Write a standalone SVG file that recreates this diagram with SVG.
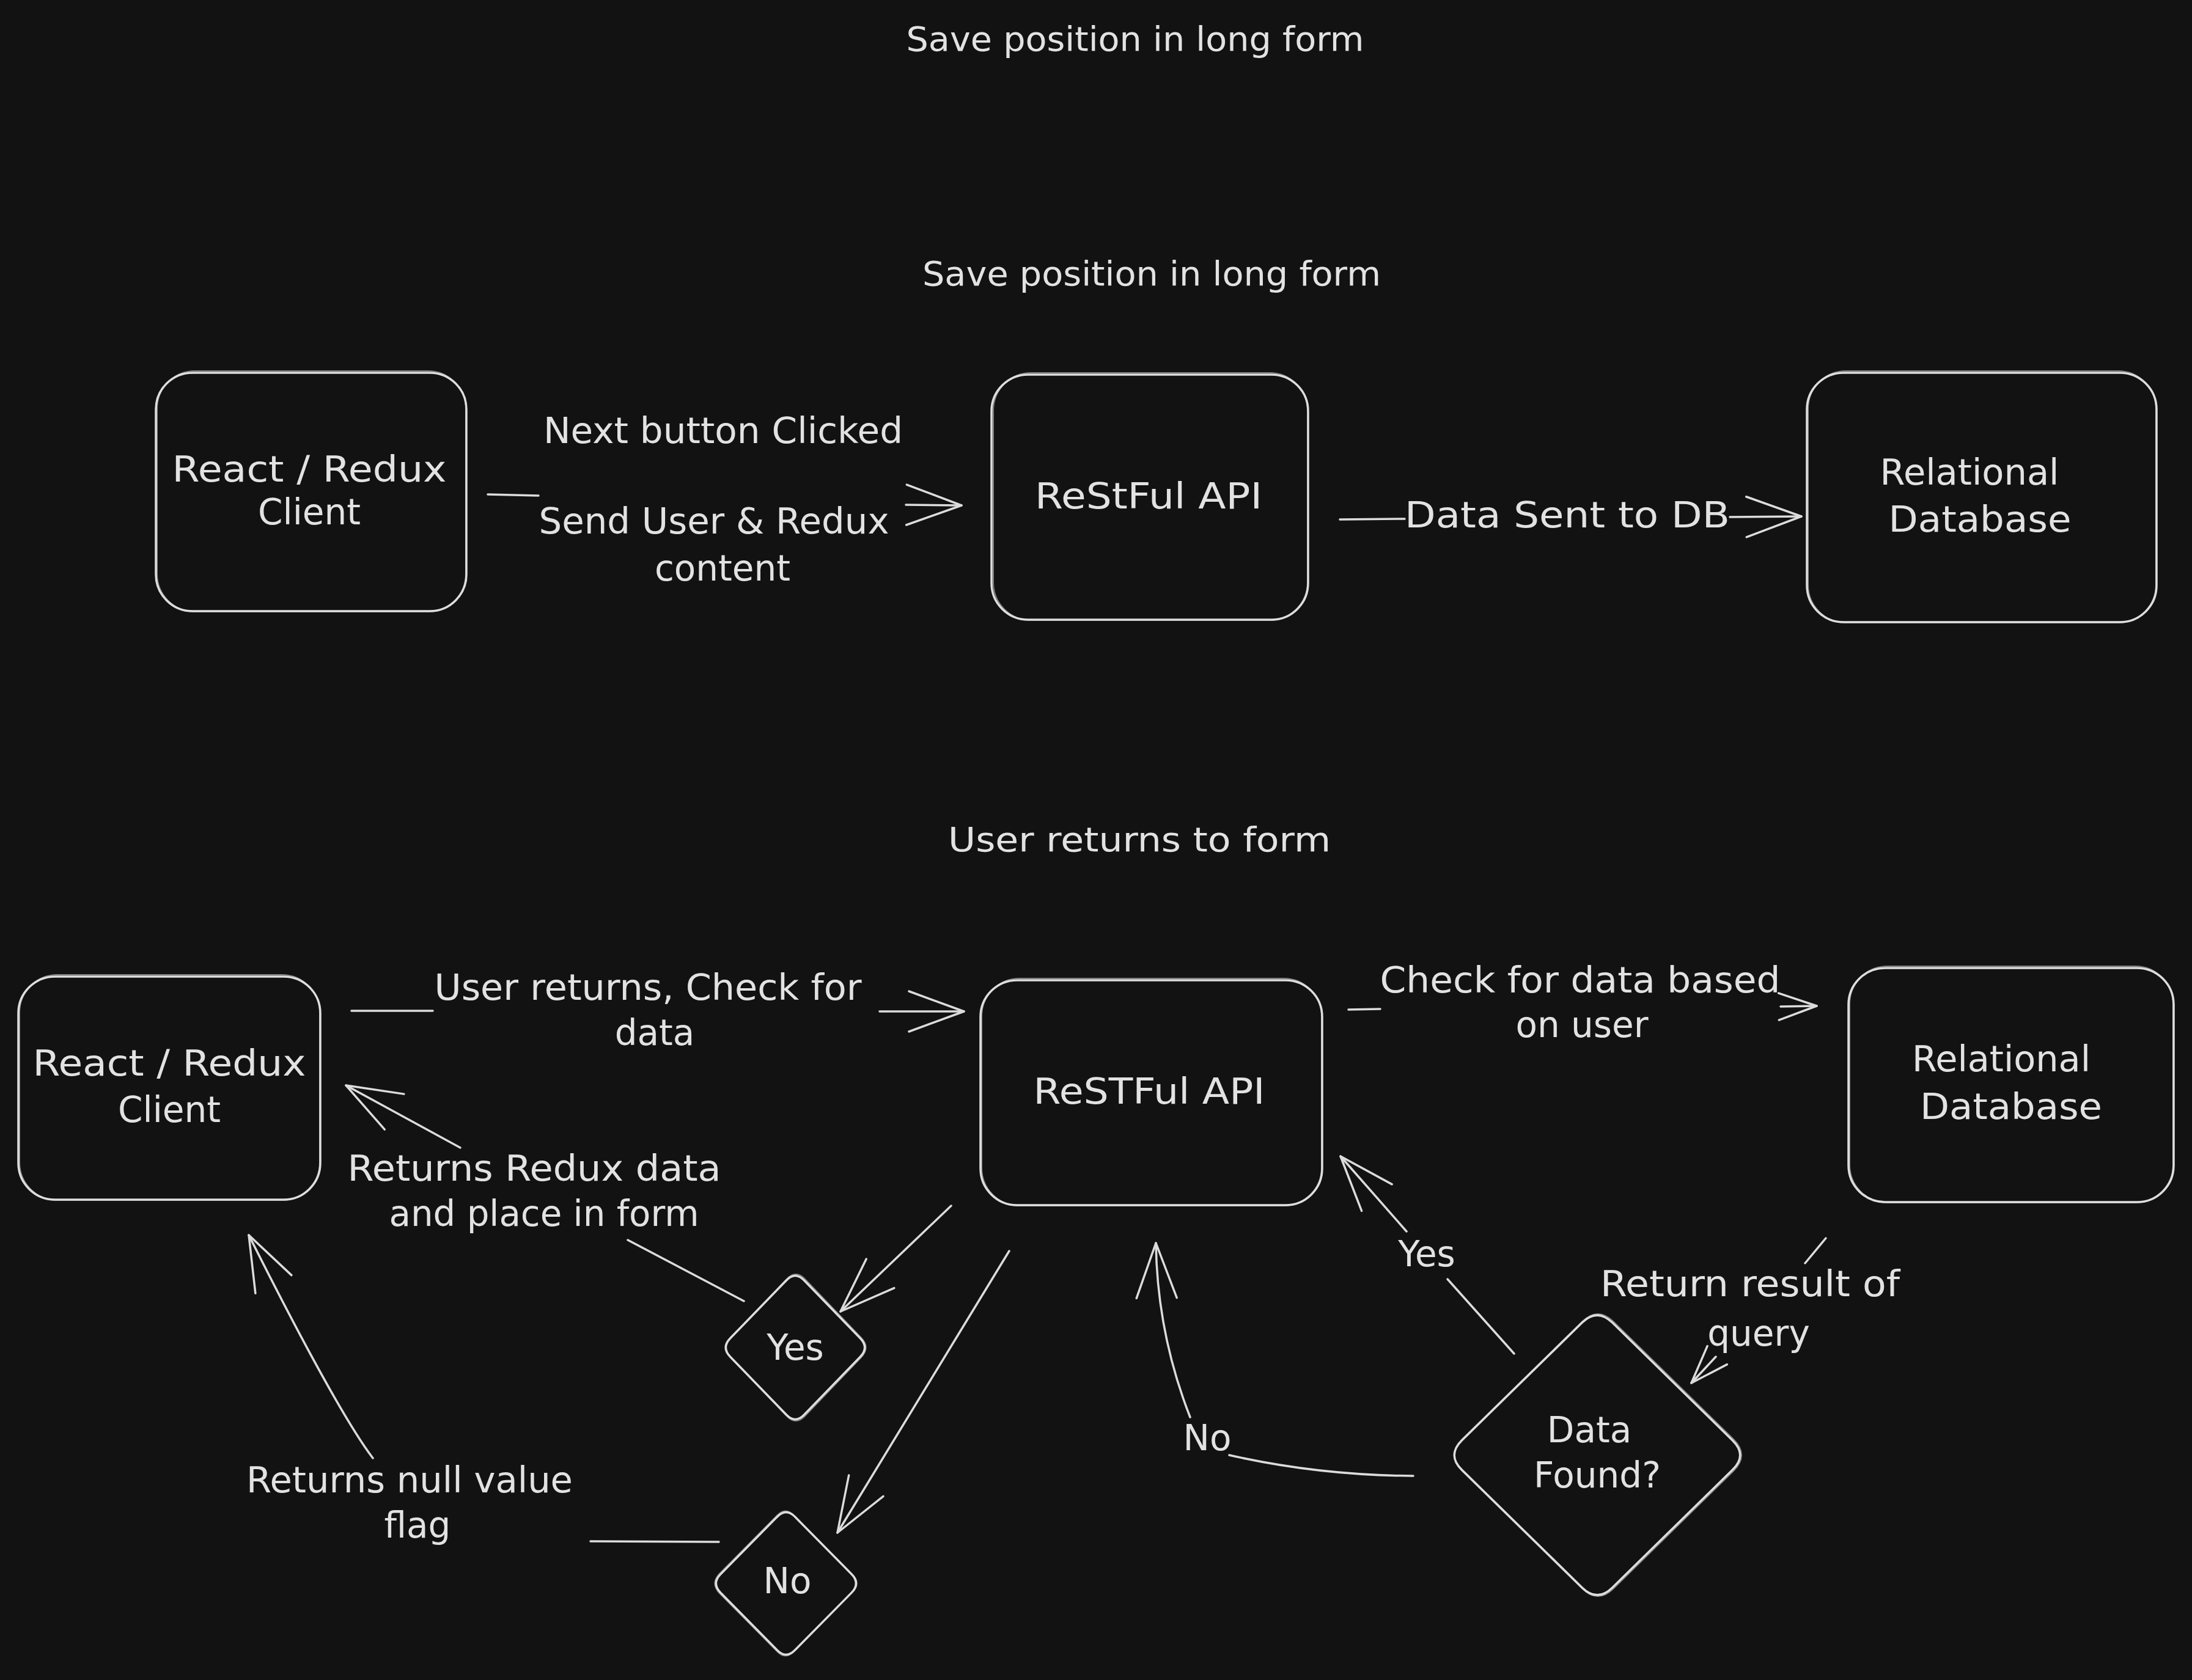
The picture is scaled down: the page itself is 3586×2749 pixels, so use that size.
<svg xmlns="http://www.w3.org/2000/svg" width="3586" height="2749" viewBox="0 0 3586 2749">
<style>
.bg{fill:#121212}
.box{fill:none;stroke:#dedede;stroke-width:3.5;stroke-linejoin:round}
.box2{fill:none;stroke:#dedede;stroke-width:2;opacity:.55;stroke-linejoin:round}
.edge{fill:none;stroke:#dcdcdc;stroke-width:3.5;stroke-linecap:round;stroke-linejoin:round}
.t{font-family:"DejaVu Sans","Liberation Sans",sans-serif;font-size:58px;fill:#e2e2e2;text-anchor:middle}
.h{font-size:55px}
</style>
<defs>
<marker id="ah" markerUnits="userSpaceOnUse" viewBox="0 0 100 80" markerWidth="100" markerHeight="80" refX="92" refY="40" orient="auto">
<path d="M2,7 L92,40 L2,73" fill="none" stroke="#dcdcdc" stroke-width="3.5" stroke-linecap="round" stroke-linejoin="round"/>
</marker>
<marker id="ahs" markerUnits="userSpaceOnUse" viewBox="0 0 70 56" markerWidth="70" markerHeight="56" refX="64" refY="28" orient="auto">
<path d="M2,6 L64,28 L2,50" fill="none" stroke="#dcdcdc" stroke-width="3.5" stroke-linecap="round" stroke-linejoin="round"/>
</marker>
</defs>
<rect class="bg" x="0" y="0" width="3586" height="2749"/>

<g id="titles">
<text class="t h" x="1857" y="83" textLength="749" lengthAdjust="spacingAndGlyphs">Save position in long form</text>
<text class="t h" x="1884" y="467" textLength="750" lengthAdjust="spacingAndGlyphs">Save position in long form</text>
<text class="t h" x="1864" y="1393" textLength="626" lengthAdjust="spacingAndGlyphs">User returns to form</text>
</g>

<g id="connectors">
<path class="edge" d="M798,809 L881,811 M1482,826 L1573,827" marker-end="url(#ah)"/>
<path class="edge" d="M2192,850 L2298,849 M2830,846 L2947,845" marker-end="url(#ah)"/>
<path class="edge" d="M575,1654 L708,1654 M1439,1655 L1577,1655" marker-end="url(#ah)"/>
<path class="edge" d="M2206,1652 L2258,1651 M2913,1647 L2972,1646" marker-end="url(#ahs)"/>
<path class="edge" d="M1217,2129 L1027,2029 M753,1878 L566,1776" marker-end="url(#ah)"/>
<path class="edge" d="M1556,1973 L1375,2146" marker-end="url(#ah)"/>
<path class="edge" d="M1651,2047 L1370,2508" marker-end="url(#ah)"/>
<path class="edge" d="M1176,2523 L966,2522 M610,2386 Q551,2308 407,2021" marker-end="url(#ah)"/>
<path class="edge" d="M2477,2215 L2368,2093 M2301,2015 L2193,1892" marker-end="url(#ah)"/>
<path class="edge" d="M2312,2415 Q2156,2414 2011,2381 M1947,2319 Q1893,2181 1891,2034" marker-end="url(#ah)"/>
<path class="edge" d="M2987,2026 L2953,2067 M2807,2220 L2767,2263" marker-end="url(#ahs)"/>
</g>

<g id="edge-labels">
<text class="t" x="1183" y="725" textLength="588" lengthAdjust="spacingAndGlyphs">Next button Clicked</text>
<text class="t" x="1168" y="873" textLength="573" lengthAdjust="spacingAndGlyphs">Send User &amp; Redux</text>
<text class="t" x="1182" y="950">content</text>
<text class="t" x="2564" y="863" textLength="532" lengthAdjust="spacingAndGlyphs">Data Sent to DB</text>
<text class="t" x="1060" y="1636" textLength="699" lengthAdjust="spacingAndGlyphs">User returns, Check for</text>
<text class="t" x="1071" y="1710">data</text>
<text class="t" x="2585" y="1624" textLength="655" lengthAdjust="spacingAndGlyphs">Check for data based</text>
<text class="t" x="2588" y="1697">on user</text>
<text class="t" x="874" y="1932" textLength="611" lengthAdjust="spacingAndGlyphs">Returns Redux data</text>
<text class="t" x="890" y="2006" textLength="507" lengthAdjust="spacingAndGlyphs">and place in form</text>
<text class="t" x="670" y="2442" textLength="534" lengthAdjust="spacingAndGlyphs">Returns null value</text>
<text class="t" x="683" y="2516">flag</text>
<text class="t" x="2334" y="2072">Yes</text>
<text class="t" x="1975" y="2373">No</text>
<text class="t" x="2863" y="2121" textLength="490" lengthAdjust="spacingAndGlyphs">Return result of</text>
<text class="t" x="2877" y="2202">query</text>
</g>

<g id="client-1">
<rect class="box" x="255" y="610" width="508" height="390" rx="60"/>
<rect class="box2" x="257" y="607" width="505" height="394" rx="62"/>
<text class="t" x="506" y="788" textLength="449" lengthAdjust="spacingAndGlyphs">React / Redux</text>
<text class="t" x="506" y="858">Client</text>
</g>
<g id="api-1">
<rect class="box" x="1622" y="613" width="518" height="401" rx="60"/>
<rect class="box2" x="1625" y="610" width="514" height="405" rx="62"/>
<text class="t" x="1879" y="832" textLength="372" lengthAdjust="spacingAndGlyphs">ReStFul API</text>
</g>
<g id="db-1">
<rect class="box" x="2956" y="610" width="572" height="408" rx="60"/>
<rect class="box2" x="2958" y="607" width="569" height="412" rx="62"/>
<text class="t" x="3222" y="793" textLength="293" lengthAdjust="spacingAndGlyphs">Relational</text>
<text class="t" x="3239" y="870" textLength="299" lengthAdjust="spacingAndGlyphs">Database</text>
</g>
<g id="client-2">
<rect class="box" x="30" y="1598" width="494" height="365" rx="60"/>
<rect class="box2" x="32" y="1595" width="491" height="369" rx="62"/>
<text class="t" x="277" y="1760" textLength="447" lengthAdjust="spacingAndGlyphs">React / Redux</text>
<text class="t" x="277" y="1836">Client</text>
</g>
<g id="api-2">
<rect class="box" x="1604" y="1604" width="559" height="368" rx="60"/>
<rect class="box2" x="1606" y="1601" width="556" height="372" rx="62"/>
<text class="t" x="1880" y="1806" textLength="379" lengthAdjust="spacingAndGlyphs">ReSTFul API</text>
</g>
<g id="db-2">
<rect class="box" x="3024" y="1584" width="532" height="383" rx="60"/>
<rect class="box2" x="3026" y="1581" width="529" height="387" rx="62"/>
<text class="t" x="3274" y="1753" textLength="292" lengthAdjust="spacingAndGlyphs">Relational</text>
<text class="t" x="3290" y="1831" textLength="298" lengthAdjust="spacingAndGlyphs">Database</text>
</g>
<g id="yes-decision">
<path class="box" d="M1315.5,2095 L1407.5,2190 Q1422,2205 1407.5,2220 L1315.5,2315 Q1301,2330 1286.5,2315 L1194.5,2220 Q1180,2205 1194.5,2190 L1286.5,2095 Q1301,2080 1315.5,2095 Z"/>
<path class="box2" d="M1317,2093 L1409,2189 Q1424,2205 1409,2221 L1317,2317 Q1302,2333 1287,2317 L1195,2221 Q1181,2205 1195,2189 L1287,2093 Q1302,2077 1317,2093 Z"/>
<text class="t" x="1301" y="2225">Yes</text>
</g>
<g id="no-decision">
<path class="box" d="M1300.6,2481.9 L1393.4,2576.1 Q1408,2591 1393.4,2605.9 L1300.6,2700.1 Q1286,2715 1271.4,2700.1 L1178.6,2605.9 Q1164,2591 1178.6,2576.1 L1271.4,2481.9 Q1286,2467 1300.6,2481.9 Z"/>
<path class="box2" d="M1299,2480 L1392,2575 Q1407,2591 1392,2607 L1299,2702 Q1285,2717 1271,2702 L1177,2607 Q1162,2591 1177,2575 L1271,2480 Q1285,2465 1299,2480 Z"/>
<text class="t" x="1288" y="2607">No</text>
</g>
<g id="data-found">
<path class="box" d="M2637.6,2164.1 L2834.4,2356.9 Q2859,2381 2834.4,2405.1 L2637.6,2597.9 Q2613,2622 2588.4,2597.9 L2391.4,2405.1 Q2367,2381 2391.4,2356.9 L2588.4,2164.1 Q2613,2140 2637.6,2164.1 Z"/>
<path class="box2" d="M2639,2162 L2836,2355 Q2862,2381 2836,2407 L2639,2600 Q2614,2624 2589,2600 L2392,2407 Q2366,2381 2392,2355 L2589,2162 Q2614,2138 2639,2162 Z"/>
<text class="t" x="2600" y="2360">Data</text>
<text class="t" x="2613" y="2434">Found?</text>
</g>
</svg>
